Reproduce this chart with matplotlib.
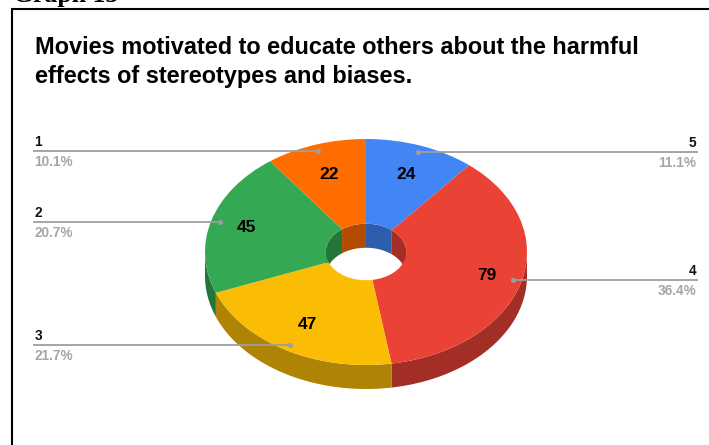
#!/usr/bin/env python3
# -*- coding: utf-8 -*-
import numpy as np
import matplotlib
matplotlib.use('Agg')
import matplotlib.pyplot as plt
from matplotlib.patches import Rectangle

W, H = 709, 445
# pie geometry in pixels of the picture
CX, CY, RX, RY = 366, 252, 161, 113
DEPTH = 24 / RY
HOLE = 0.25

labels = ['5', '4', '3', '2', '1']
values = [24, 79, 47, 45, 22]
percents = ['11.1%', '36.4%', '21.7%', '20.7%', '10.1%']
colors = ['#4285f4', '#ea4335', '#fbbc04', '#34a853', '#ff6d01']
dark = ['#2e5dab', '#a32e25', '#af8303', '#247539', '#b24c00']


def px(x):
    return (x - CX) / RX


def py(y):
    return (CY - y) / RY


def side_wall(ax, a0, a1, r, lo, hi, color):
    # a0, a1 are degrees clockwise from 12 o'clock, wall is kept between lo and hi
    a0, a1 = max(a0, lo), min(a1, hi)
    if a1 <= a0:
        return
    t = np.radians(np.linspace(a0, a1, 80))
    x = r * np.sin(t)
    y = r * np.cos(t)
    ax.fill(np.r_[x, x[::-1]], np.r_[y, y[::-1] - DEPTH], color=color, lw=0, zorder=1)


fig = plt.figure(figsize=(W / 100, H / 100), dpi=100)
ax = fig.add_axes([0, 0, 1, 1])

ax.pie(values, colors=colors, startangle=90, counterclock=False, radius=1,
       wedgeprops={'width': 1 - HOLE, 'linewidth': 0, 'zorder': 3})
ax.set_aspect('auto')
ax.set_xlim(px(0), px(W))
ax.set_ylim(py(H), py(0))
ax.axis('off')

shares = np.array(values) / sum(values) * 360
ends = np.cumsum(shares)
starts = ends - shares
for a0, a1, c in zip(starts, ends, dark):
    side_wall(ax, a0, a1, 1, 90, 270, c)
    # the far side of the hole shows its wall
    side_wall(ax, a0, a1, HOLE, 0, 90, c)
    side_wall(ax, a0, a1, HOLE, 270, 360, c)

GREY = '#9e9e9e'
for a0, a1, name, pct, val in zip(starts, ends, labels, percents, values):
    mid = np.radians((a0 + a1) / 2)
    sx, cy = np.sin(mid), np.cos(mid)
    r = 0.72 + 0.06 * sx ** 2
    ax.text(r * sx, r * cy, str(val), ha='center', va='center', fontsize=12.5,
            fontweight='bold', family='Liberation Sans', color='black', zorder=5)
    dx, dy = 0.945 * sx, 0.945 * cy
    right = sx > 0
    end = px(698) if right else px(33)
    ax.plot([dx, end], [dy, dy], color=GREY, lw=1.3, zorder=4, solid_capstyle='butt')
    ax.plot([dx], [dy], 'o', color=GREY, ms=3.6, mew=0, zorder=4)
    ax.annotate(name, (end, dy), xytext=(-1 if right else 1, 1.5), textcoords='offset points',
                ha='right' if right else 'left', va='bottom', fontsize=9.8, fontweight='bold',
                family='Liberation Sans', color='#111111', zorder=5)
    ax.annotate(pct, (end, dy), xytext=(-1 if right else 1, -3), textcoords='offset points',
                ha='right' if right else 'left', va='top', fontsize=9.8, fontweight='bold',
                family='Liberation Sans', color='#a6a6a6', zorder=5)

# frame around the chart, it runs off the right and bottom of the picture
fig.add_artist(Rectangle((11.5 / W, -0.05), 1.05, 1.05 - 9.5 / H,
                         transform=fig.transFigure, fill=False, ec='black', lw=1.5))
fig.text(35 / W, 1 - 47 / H, 'Movies motivated to educate others about the harmful',
         fontsize=16.9, fontweight='bold', family='Liberation Sans', va='center', color='black')
fig.text(35 / W, 1 - 77 / H, 'effects of stereotypes and biases.',
         fontsize=16.9, fontweight='bold', family='Liberation Sans', va='center', color='black')
fig.text(13 / W, 1 - 2 / H, 'Graph 13', fontsize=18.5, fontweight='bold',
         family='Liberation Serif', va='baseline', color='black')

fig.savefig('out.png', dpi=100)
